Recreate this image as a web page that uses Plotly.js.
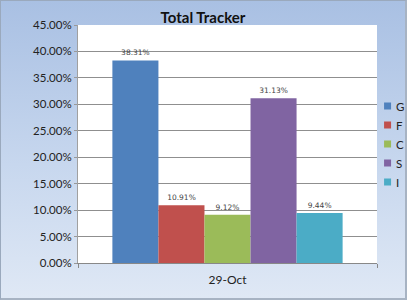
<!DOCTYPE html>
<html><head><meta charset="utf-8">
<script src="https://cdn.plot.ly/plotly-3.0.1.min.js"></script>
<style>
html,body{margin:0;padding:0;}
#wrap{width:404px;height:297px;border:1px solid #9aa9bd;border-right:2px solid #a7b3c3;border-bottom:2px solid #a7b3c3;background:linear-gradient(180deg,#a9c0e3 0%,#c7d7ee 55%,#dfe8f5 100%);}
#chart{width:404px;height:297px;}
</style></head>
<body><div id="wrap"><div id="chart"></div></div>
<script>
const category = ['29-Oct'];
const seriesNames = ['G','F','C','S','I'];
const seriesValues = [0.3831, 0.1091, 0.0912, 0.3113, 0.0944];
const seriesColors = ['#4F81BD','#C0504D','#9BBB59','#8064A2','#4BACC6'];
const yTickVals = [0,0.05,0.10,0.15,0.20,0.25,0.30,0.35,0.40,0.45];

const traces = seriesNames.map((n,i)=>({
  type:'bar', name:n, x:category, y:[seriesValues[i]],
  marker:{color:seriesColors[i]},
  text:[(seriesValues[i]*100).toFixed(2)+'%'],
  textposition:'outside', cliponaxis:false,
  textfont:{family:'DejaVu Sans, sans-serif', size:7.5, color:'#444'},
  hoverinfo:'none'
}));

const layout = {
  width:404, height:297,
  margin:{l:77, r:28, t:24, b:35, autoexpand:false},
  paper_bgcolor:'rgba(0,0,0,0)', plot_bgcolor:'#ffffff',
  title:{text:'<b>Total Tracker</b>', x:0.5, xanchor:'center', y:0.943, yanchor:'middle',
    font:{family:'Lato, Open Sans, sans-serif', size:15, color:'#111'}},
  barmode:'group', bargap:0.23, bargroupgap:0,
  font:{family:'Lato, Open Sans, sans-serif'},
  xaxis:{type:'category', range:[-0.5,0.5], tickson:'boundaries', ticks:'outside', ticklen:4, tickcolor:'#888',
    showline:true, linecolor:'#888', linewidth:1, ticklabelstandoff:6,
    tickfont:{size:12, color:'#222'}, showgrid:false},
  yaxis:{range:[0,0.45], tickvals:yTickVals, tickformat:'.2%', ticks:'outside', ticklen:3, tickcolor:'#999',
    showgrid:true, gridcolor:'#8f8f8f', gridwidth:1, zeroline:false, showline:true, linecolor:'#a0a0a0', linewidth:1,
    tickfont:{size:11.5, color:'#222'}},
  showlegend:true,
  legend:{x:0.93, xanchor:'left', y:0.5, yanchor:'middle', bgcolor:'rgba(0,0,0,0)',
    font:{size:11.5, color:'#222'}, itemwidth:30, tracegroupgap:0},
};
Plotly.newPlot('chart', traces, layout, {displayModeBar:false, staticPlot:true}).then(()=>{
  document.querySelectorAll('#chart .legend [clip-path]').forEach(el=>el.removeAttribute('clip-path'));
  document.querySelectorAll('#chart .legend .traces').forEach(tr=>{
    const pts = tr.querySelector('.legendpoints');
    const txt = tr.querySelector('.legendtext');
    if(!pts||!txt) return;
    const b = pts.getBBox();
    const cx = b.x + b.width/2, cy = b.y + b.height/2;
    const tx = parseFloat(txt.getAttribute('x')) || 40;
    const s = 7/12;
    pts.setAttribute('transform', `translate(${tx-8.5},${cy}) scale(${s}) translate(${-cx},${-cy})`);
  });
});
</script></body></html>
